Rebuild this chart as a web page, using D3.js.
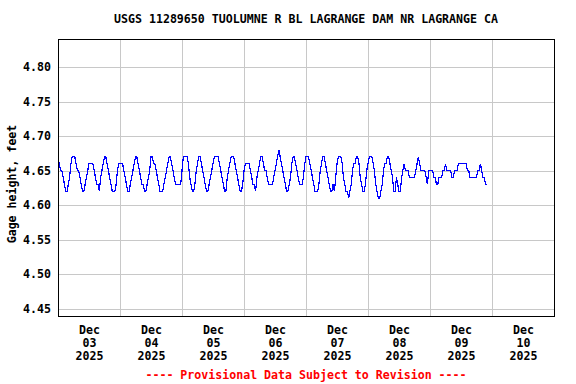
<!DOCTYPE html>
<html>
<head>
<meta charset="utf-8">
<script src="https://cdn.jsdelivr.net/npm/d3@7"></script>
<style>
  body { margin: 0; background: #fff; }
  svg text { font-family: "DejaVu Sans Mono", "Liberation Mono", monospace; font-weight: bold; font-size: 11.6px; }
</style>
</head>
<body>
<script>
// chart texts
var title = "USGS 11289650 TUOLUMNE R BL LAGRANGE DAM NR LAGRANGE CA";
var yTitle = "Gage height, feet";
var footer = "---- Provisional Data Subject to Revision ----";

// series: one reading every 30 minutes from Dec 03 2025 00:00
var startTime = "2025-12-03T00:00:00Z";
var stepMinutes = 30;
var gageHeight = [
  4.67, 4.66, 4.65, 4.65, 4.64, 4.63, 4.62, 4.62, 4.63, 4.64, 4.66, 4.67,
  4.67, 4.67, 4.66, 4.65, 4.65, 4.64, 4.63, 4.62, 4.62, 4.63, 4.64, 4.65,
  4.66, 4.66, 4.66, 4.66, 4.65, 4.64, 4.63, 4.63, 4.62, 4.64, 4.65, 4.66,
  4.67, 4.67, 4.66, 4.65, 4.64, 4.63, 4.62, 4.62, 4.62, 4.63, 4.65, 4.66,
  4.66, 4.66, 4.66, 4.65, 4.64, 4.63, 4.62, 4.62, 4.63, 4.64, 4.65, 4.66,
  4.67, 4.67, 4.66, 4.65, 4.64, 4.63, 4.63, 4.62, 4.62, 4.63, 4.64, 4.65,
  4.67, 4.67, 4.66, 4.66, 4.65, 4.64, 4.63, 4.62, 4.62, 4.62, 4.63, 4.64,
  4.65, 4.66, 4.67, 4.67, 4.66, 4.65, 4.64, 4.63, 4.63, 4.63, 4.63, 4.63,
  4.65, 4.67, 4.67, 4.67, 4.67, 4.66, 4.64, 4.63, 4.62, 4.62, 4.63, 4.65,
  4.66, 4.67, 4.67, 4.66, 4.65, 4.64, 4.63, 4.62, 4.62, 4.63, 4.64, 4.65,
  4.66, 4.67, 4.67, 4.67, 4.67, 4.66, 4.65, 4.64, 4.63, 4.62, 4.62, 4.64,
  4.65, 4.66, 4.67, 4.67, 4.67, 4.66, 4.65, 4.64, 4.63, 4.62, 4.62, 4.63,
  4.65, 4.66, 4.66, 4.66, 4.66, 4.65, 4.64, 4.63, 4.63, 4.62, 4.64, 4.65,
  4.66, 4.67, 4.67, 4.66, 4.65, 4.65, 4.64, 4.63, 4.63, 4.63, 4.63, 4.64,
  4.65, 4.66, 4.67, 4.68, 4.67, 4.66, 4.65, 4.64, 4.63, 4.62, 4.62, 4.63,
  4.64, 4.66, 4.67, 4.67, 4.66, 4.65, 4.64, 4.63, 4.63, 4.63, 4.64, 4.66,
  4.67, 4.67, 4.67, 4.66, 4.65, 4.64, 4.63, 4.62, 4.62, 4.62, 4.63, 4.65,
  4.66, 4.67, 4.67, 4.66, 4.65, 4.64, 4.63, 4.62, 4.62, 4.63, 4.62, 4.64,
  4.66, 4.67, 4.67, 4.67, 4.66, 4.64, 4.63, 4.62, 4.62, 4.61, 4.62, 4.63,
  4.65, 4.66, 4.66, 4.67, 4.67, 4.66, 4.64, 4.63, 4.62, 4.62, 4.63, 4.65,
  4.66, 4.67, 4.67, 4.67, 4.66, 4.65, 4.63, 4.62, 4.61, 4.61, 4.62, 4.63,
  4.65, 4.66, 4.66, 4.67, 4.67, 4.66, 4.65, 4.64, 4.62, 4.62, 4.64, 4.63,
  4.62, 4.62, 4.64, 4.65, 4.66, 4.65, 4.65, 4.65, 4.64, 4.64, 4.64, 4.64,
  4.64, 4.65, 4.66, 4.67, 4.66, 4.65, 4.65, 4.65, 4.65, 4.64, 4.63, 4.65,
  4.65, 4.65, 4.65, 4.64, 4.64, 4.63, 4.63, 4.64, 4.64, 4.64, 4.65, 4.65,
  4.66, 4.65, 4.65, 4.65, 4.65, 4.64, 4.64, 4.65, 4.65, 4.65, 4.66, 4.66,
  4.66, 4.66, 4.66, 4.66, 4.66, 4.65, 4.65, 4.64, 4.64, 4.64, 4.64, 4.64,
  4.64, 4.65, 4.65, 4.66, 4.65, 4.64, 4.64, 4.63, 4.63
];

// axis values
var yTicks = [4.45, 4.50, 4.55, 4.60, 4.65, 4.70, 4.75, 4.80];
var tickMonth = "Dec";
var tickDays = ["03", "04", "05", "06", "07", "08", "09", "10"];
var tickYear = "2025";

// plot box inside the 576x384 page
var margin = {top: 39, right: 22, bottom: 68, left: 58},
    W = 576, H = 384,
    w = W - margin.left - margin.right,
    h = H - margin.top - margin.bottom;

var svg = d3.select("body").append("svg")
    .attr("width", W)
    .attr("height", H);

var t0 = new Date(startTime);
var data = gageHeight.map(function(v, i) {
  return {t: d3.utcMinute.offset(t0, i * stepMinutes), v: v};
});

var days = tickDays.map(function(d) { return d3.utcDay.offset(t0, +d - 3); });

var x = d3.scaleUtc()
    .domain([t0, d3.utcDay.offset(t0, tickDays.length)])
    .range([0, w]);

var y = d3.scaleLinear()
    .domain([4.4394, 4.8406])
    .range([h, 0]);

var g = svg.append("g")
    .attr("transform", "translate(" + margin.left + "," + margin.top + ")");

// grid lines
g.append("g")
    .attr("class", "grid")
    .call(d3.axisLeft(y).tickValues(yTicks).tickSize(-w).tickFormat(""));

g.append("g")
    .attr("class", "grid")
    .attr("transform", "translate(0," + h + ")")
    .call(d3.axisBottom(x).tickValues(days.slice(1)).tickSize(-h).tickFormat(""));

g.selectAll(".grid .domain").remove();
g.selectAll(".grid line")
    .attr("stroke", "#c8c8c8")
    .attr("shape-rendering", "crispEdges");

// y tick labels
var yAxis = g.append("g")
    .call(d3.axisLeft(y).tickValues(yTicks).tickSize(0).tickPadding(7).tickFormat(d3.format(".2f")));
yAxis.select(".domain").remove();
yAxis.selectAll("text").attr("fill", "#000");
yAxis.attr("font-size", null).attr("font-family", null);

// x tick labels at noon of each day, three lines
var noons = days.map(function(d) { return d3.utcHour.offset(d, 12); });
var xAxis = g.append("g")
    .attr("transform", "translate(0," + h + ")")
    .call(d3.axisBottom(x).tickValues(noons).tickSize(0).tickFormat(""));
xAxis.select(".domain").remove();
xAxis.attr("font-size", null).attr("font-family", null);
xAxis.selectAll(".tick text").remove();
xAxis.selectAll(".tick").each(function(d, i) {
  var txt = d3.select(this).append("text")
      .attr("fill", "#000")
      .attr("text-anchor", "middle");
  [tickMonth, tickDays[i], tickYear].forEach(function(s, k) {
    txt.append("tspan").attr("x", 0).attr("y", 18 + k * 13).text(s);
  });
});

// the series
var line = d3.line()
    .x(function(d) { return x(d.t); })
    .y(function(d) { return y(d.v); });

g.append("path")
    .datum(data)
    .attr("fill", "none")
    .attr("stroke", "#0000ff")
    .attr("stroke-width", 1.2)
    .attr("shape-rendering", "crispEdges")
    .attr("d", line);

// frame
g.append("rect")
    .attr("width", w)
    .attr("height", h)
    .attr("fill", "none")
    .attr("stroke", "#000")
    .attr("shape-rendering", "crispEdges");

// titles
svg.append("text")
    .attr("x", margin.left + w / 2)
    .attr("y", 23)
    .attr("text-anchor", "middle")
    .text(title);

svg.append("text")
    .attr("transform", "translate(16," + 184 + ") rotate(-90)")
    .attr("text-anchor", "middle")
    .text(yTitle);

svg.append("text")
    .attr("x", margin.left + w / 2)
    .attr("y", 379)
    .attr("text-anchor", "middle")
    .attr("fill", "#ff0000")
    .text(footer);
</script>
</body>
</html>
